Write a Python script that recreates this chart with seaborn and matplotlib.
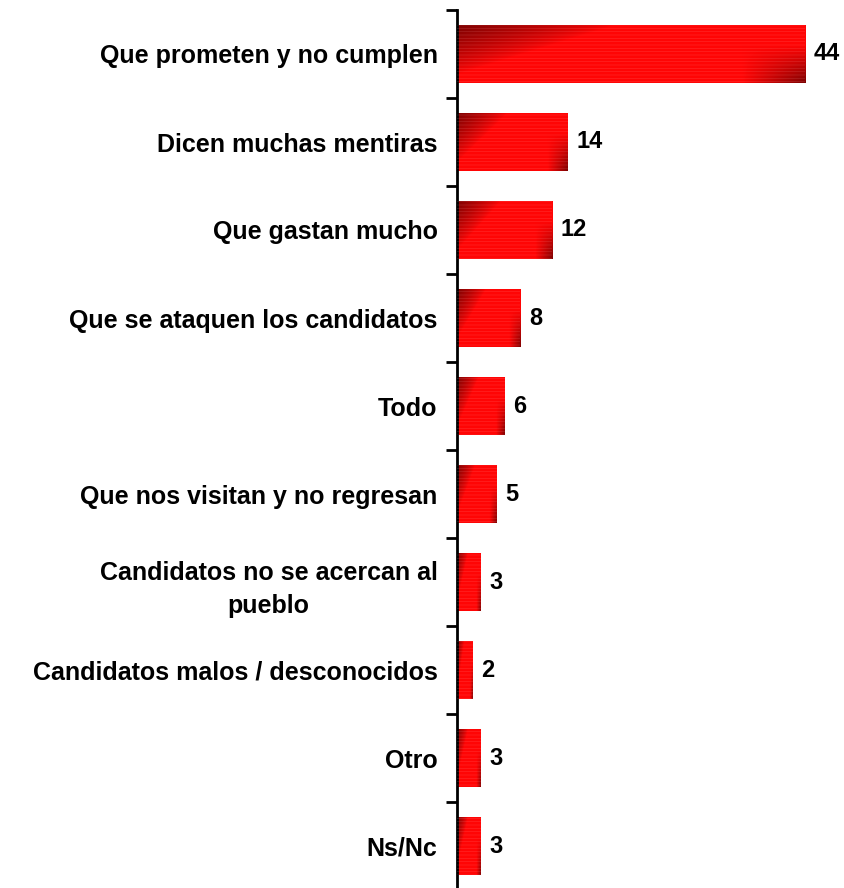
import numpy as np
import pandas as pd
import matplotlib
matplotlib.use('Agg')
import matplotlib.pyplot as plt
import seaborn as sns

# data
categories = [
    'Que prometen y no cumplen',
    'Dicen muchas mentiras',
    'Que gastan mucho',
    'Que se ataquen los candidatos',
    'Todo',
    'Que nos visitan y no regresan',
    'Candidatos no se acercan al\npueblo',
    'Candidatos malos / desconocidos',
    'Otro',
    'Ns/Nc',
]
values = [44, 14, 12, 8, 6, 5, 3, 2, 3, 3]

df = pd.DataFrame({'categoria': categories, 'valor': values})

sns.set_theme(style='white')
plt.rcParams['font.family'] = ['Liberation Sans', 'DejaVu Sans']
plt.rcParams['hatch.linewidth'] = 0.5

W, H = 845, 888
fig = plt.figure(figsize=(W / 100, H / 100), dpi=100)
# axes placed so the axis line sits at x=457 and each category band is 88 px
ax = fig.add_axes([457 / W, -2 / H, 1 - 457 / W, 880 / H])

sns.barplot(data=df, x='valor', y='categoria', orient='h', color='#ff0000',
            width=0.65, saturation=1, ax=ax)

# diagonal shading: dark at top-left and bottom-right, bright red in between
ny, nx = 60, 200
v, u = np.mgrid[0:1:ny * 1j, 0:1:nx * 1j]
for p in list(ax.patches):
    x0, y0 = p.get_x(), p.get_y()
    w, h = p.get_width(), p.get_height()
    dark_tl = np.clip(1 - (u / 0.45 + v / 0.85), 0, 1) ** 0.8
    dark_br = np.clip((u - 0.82) / 0.18, 0, 1) * np.clip((v - 0.35) / 0.65, 0, 1)
    dark = np.maximum(dark_tl, dark_br)
    inten = 1 - 0.5 * dark
    rgb = np.zeros((ny, nx, 3))
    rgb[..., 0] = inten
    rgb[..., 1] = 0.02 * inten
    rgb[..., 2] = 0.02 * inten
    im = ax.imshow(rgb, extent=(x0, x0 + w, y0 + h, y0), aspect='auto',
                   interpolation='bilinear', zorder=2)
    im.set_clip_path(p)
    # faint woven texture on top
    tex = plt.Rectangle((x0, y0), w, h, facecolor='none',
                        edgecolor=(1, 0.7, 0.7, 0.18), linewidth=0,
                        hatch='-----', zorder=3)
    ax.add_patch(tex)

ax.set_xlim(0, 49)
ax.set_ylim(len(categories) - 0.5, -0.5)

# value labels
for i, val in enumerate(values):
    ax.text(val + 1.1, i, str(val), ha='left', va='center',
            fontsize=17, fontweight='bold', color='black')

# axis styling
ax.set_xlabel('')
ax.set_ylabel('')
ax.set_xticks([])
ax.set_yticks(range(len(categories)))
ax.set_yticklabels(categories, fontsize=18, fontweight='bold', color='black',
                   multialignment='center', linespacing=1.5)
ax.set_yticks(np.arange(-0.5, len(categories), 1), minor=True)
ax.tick_params(axis='y', which='major', length=0, pad=14)
ax.tick_params(axis='y', which='minor', left=True, length=8, width=2,
               color='black', direction='out')
for s in ['top', 'right', 'bottom']:
    ax.spines[s].set_visible(False)
ax.spines['left'].set_color('black')
ax.spines['left'].set_linewidth(2)

fig.savefig('out.png', dpi=100, facecolor='white')
